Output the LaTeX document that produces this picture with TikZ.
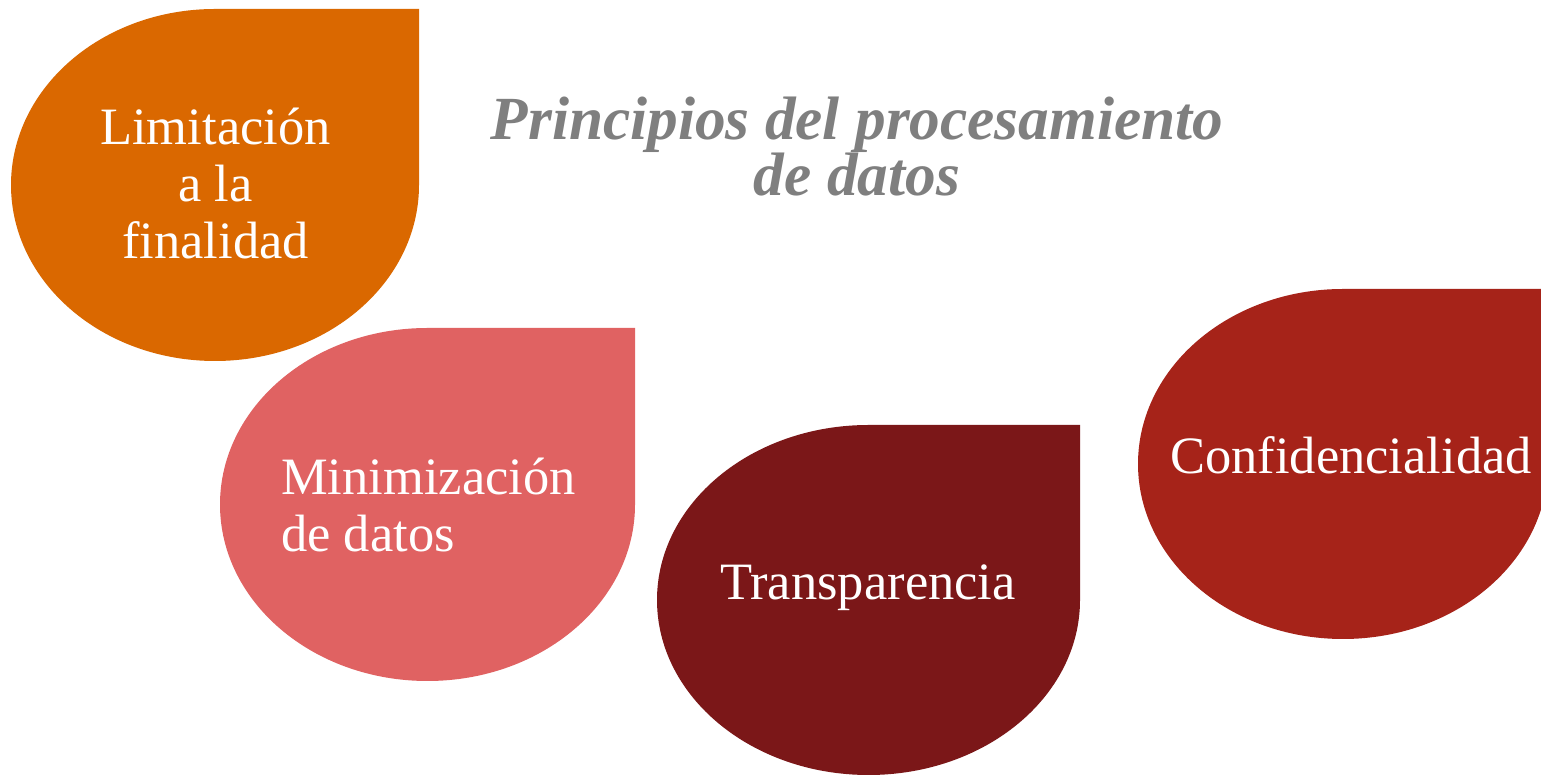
\documentclass[tikz,border=0pt]{standalone}
\usepackage{fontspec}
\setmainfont{Liberation Serif}
\definecolor{cOrange}{HTML}{DA6800}
\definecolor{cPink}{HTML}{E06262}
\definecolor{cDark}{HTML}{7B1718}
\definecolor{cRed}{HTML}{A62319}
\definecolor{cGray}{HTML}{7F7F7F}
\tikzset{
  drop/.style={fill=#1, draw=none},
  lbl/.style={text=white, font=\fontsize{52.5}{57}\selectfont, inner sep=0pt, anchor=base},
  ttl/.style={text=cGray, font=\fontsize{61.3}{56}\selectfont\bfseries\itshape, inner sep=0pt, anchor=base, align=center}
}
\newcommand\teardrop[5]{% cx, cy, rx, ry, color
  \path[drop=#5] (#1+#3,#2) -- (#1+#3,#2+#4) -- (#1,#2+#4)
    arc[start angle=90, end angle=360, x radius=#3, y radius=#4] -- cycle;}
\begin{document}
\begin{tikzpicture}[x=1pt,y=1pt]
\useasboundingbox (0,0) rectangle (1541,775);
\clip (0,0) rectangle (1541,775);
\fill[white] (0,0) rectangle (1541,775);
\teardrop{215}{590}{204}{176}{cOrange}
\teardrop{427.5}{270.5}{207.5}{176.5}{cPink}
\teardrop{868.5}{175}{211.5}{175}{cDark}
\teardrop{1343}{311}{205}{175}{cRed}
\node[ttl] (title) at (857,579) {Principios del procesamiento\\de datos};
\node[lbl, align=center] (lim) at (215.5,516) {Limitación\\a la\\finalidad};
\node[lbl, align=left, anchor=base west] (min) at (281,223) {Minimización\\de datos};
\node[lbl] (tra) at (868,175) {Transparencia};
\node[lbl] (con) at (1351,301) {Confidencialidad};
\end{tikzpicture}
\end{document}
